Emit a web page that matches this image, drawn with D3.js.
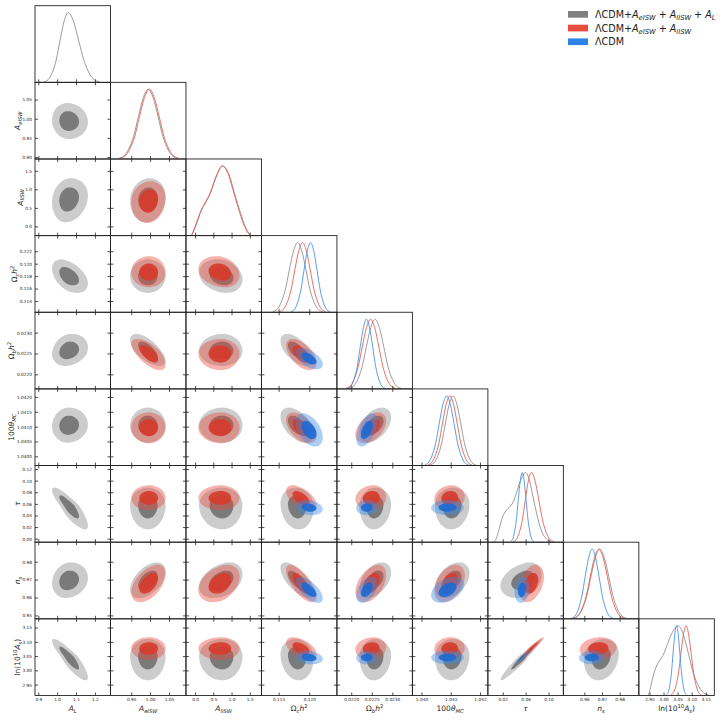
<!DOCTYPE html>
<html>
<head>
<meta charset="utf-8">
<script src="https://cdn.jsdelivr.net/npm/d3@7"></script>
<style>
  body { margin: 0; background: #fff; }
  text { font-family: 'DejaVu Sans', sans-serif; }
</style>
</head>
<body>
<script>
// parameters, axis ranges and ticks
var paramLabels = [
  [['A', 'i'], ['L', 'sub']],
  [['A', 'i'], ['eISW', 'sub']],
  [['A', 'i'], ['lISW', 'sub']],
  [['Ω', 'r'], ['c', 'sub'], ['h', 'i'], ['2', 'sup']],
  [['Ω', 'r'], ['b', 'sub'], ['h', 'i'], ['2', 'sup']],
  [['100', 'r'], ['θ', 'i'], ['MC', 'sub']],
  [['τ', 'i']],
  [['n', 'i'], ['s', 'sub']],
  [['ln(10', 'r'], ['10', 'sup'], ['A', 'i'], ['s', 'sub'], [')', 'r']]
];
var rangeLo = [0.8825, 0.895, -0.25, 0.1122, 0.02165, 1.03969, -0.006, 0.9481, 2.912];
var rangeHi = [1.2825, 1.095, 1.82, 0.1245, 0.02349, 1.04227, 0.126, 0.9909, 3.1807];
var xTicks = [
  [0.9, 1.0, 1.1, 1.2],
  [0.95, 1.00, 1.05],
  [0.0, 0.5, 1.0, 1.5],
  [0.115, 0.120],
  [0.0220, 0.0225, 0.0230],
  [1.040, 1.041, 1.042],
  [0.02, 0.06, 0.10],
  [0.96, 0.97, 0.98],
  [2.95, 3.00, 3.05, 3.10, 3.15]
];
var yTicks = [
  [],
  [0.90, 0.95, 1.00, 1.05],
  [0.0, 0.5, 1.0, 1.5],
  [0.114, 0.116, 0.118, 0.120, 0.122],
  [0.0220, 0.0225, 0.0230],
  [1.0400, 1.0405, 1.0410, 1.0415, 1.0420],
  [0.00, 0.02, 0.04, 0.06, 0.08, 0.10, 0.12],
  [0.95, 0.96, 0.97, 0.98],
  [2.95, 3.00, 3.05, 3.10, 3.15]
];
var xTickFormat = ['.1f', '.2f', '.1f', '.3f', '.4f', '.3f', '.2f', '.2f', '.2f'];
var yTickFormat = ['.1f', '.2f', '.1f', '.3f', '.4f', '.4f', '.2f', '.2f', '.2f'];

var seriesLegend = [
  [['ΛCDM+', 'r'], ['A', 'i'], ['eISW', 'sub'], [' + ', 'r'], ['A', 'i'], ['lISW', 'sub'], [' + ', 'r'], ['A', 'i'], ['L', 'sub']],
  [['ΛCDM+', 'r'], ['A', 'i'], ['eISW', 'sub'], [' + ', 'r'], ['A', 'i'], ['lISW', 'sub']],
  [['ΛCDM', 'r']]
];

// 1D marginals: x where each curve crosses these relative heights (left side, peak, right side)
var densityLevels = [0.01, 0.04, 0.14, 0.32, 0.61, 0.88, 1, 0.88, 0.61, 0.32, 0.14, 0.04, 0.01];

var grayDensity = [
  [0.932, 0.953, 0.974, 0.995, 1.016, 1.037, 1.058, 1.086, 1.113, 1.141, 1.168, 1.196, 1.223],
  [0.917, 0.930, 0.943, 0.956, 0.969, 0.982, 0.995, 1.008, 1.021, 1.034, 1.047, 1.060, 1.073],
  [-0.09, -0.06, 0.02, 0.14, 0.42, 0.61, 0.755, 0.93, 1.08, 1.25, 1.37, 1.47, 1.52],
  [0.11405, 0.11473, 0.1154, 0.11608, 0.11675, 0.11743, 0.1181, 0.11878, 0.11945, 0.12013, 0.1208, 0.12148, 0.12215],
  [0.02195, 0.022055, 0.02216, 0.022265, 0.02237, 0.022475, 0.02258, 0.022685, 0.02279, 0.022895, 0.023, 0.023105, 0.02321],
  [1.0403, 1.04043, 1.04056, 1.04069, 1.04082, 1.04095, 1.04108, 1.04121, 1.04134, 1.04147, 1.0416, 1.04173, 1.04186],
  [0.004, 0.008, 0.012, 0.018, 0.040, 0.051, 0.060, 0.067, 0.074, 0.082, 0.089, 0.097, 0.104],
  [0.9538, 0.9563, 0.9588, 0.9613, 0.9638, 0.9663, 0.9688, 0.9713, 0.9738, 0.9763, 0.9788, 0.9813, 0.9838],
  [2.946, 2.949, 2.955, 2.966, 3.002, 3.028, 3.052, 3.070, 3.088, 3.106, 3.124, 3.142, 3.160]
];
var redDensity = [
  null,
  [0.920, 0.933, 0.946, 0.959, 0.972, 0.985, 0.998, 1.011, 1.024, 1.037, 1.050, 1.063, 1.076],
  [-0.09, -0.065, 0.01, 0.13, 0.41, 0.60, 0.745, 0.91, 1.065, 1.23, 1.35, 1.45, 1.50],
  [0.11515, 0.11578, 0.1164, 0.11703, 0.11765, 0.11828, 0.1189, 0.11953, 0.12015, 0.12078, 0.1214, 0.12203, 0.12265],
  [0.02187, 0.02197, 0.02207, 0.02217, 0.02227, 0.02237, 0.02247, 0.02257, 0.02267, 0.02277, 0.02287, 0.02297, 0.02307],
  [1.04022, 1.040345, 1.04047, 1.040595, 1.04072, 1.040845, 1.04097, 1.041095, 1.04122, 1.041345, 1.04147, 1.041595, 1.04172],
  [0.0385, 0.0438, 0.049, 0.0543, 0.0595, 0.0648, 0.070, 0.0765, 0.083, 0.0895, 0.096, 0.1025, 0.109],
  [0.9538, 0.9562, 0.9586, 0.961, 0.9634, 0.9658, 0.9682, 0.9706, 0.973, 0.9754, 0.9778, 0.9802, 0.9826],
  [3.026, 3.035, 3.044, 3.053, 3.062, 3.071, 3.080, 3.089, 3.098, 3.107, 3.116, 3.125, 3.134]
];
var blueDensity = [
  null, null, null,
  [0.11705, 0.117575, 0.1181, 0.118625, 0.11915, 0.119675, 0.1202, 0.120725, 0.12125, 0.121775, 0.1223, 0.122825, 0.12335],
  [0.02192, 0.021995, 0.02207, 0.022145, 0.02222, 0.022295, 0.02237, 0.022445, 0.02252, 0.022595, 0.02267, 0.022745, 0.02282],
  [1.04011, 1.040235, 1.04036, 1.040485, 1.04061, 1.040735, 1.04086, 1.040985, 1.04111, 1.041235, 1.04136, 1.041485, 1.04161],
  [0.0336, 0.037, 0.0404, 0.0438, 0.0472, 0.0506, 0.054, 0.0574, 0.0608, 0.0642, 0.0676, 0.071, 0.0744],
  [0.9527, 0.95465, 0.9566, 0.95855, 0.9605, 0.96245, 0.9644, 0.96635, 0.9683, 0.97025, 0.9722, 0.97415, 0.9761],
  [3.010, 3.016, 3.022, 3.028, 3.034, 3.040, 3.046, 3.052, 3.058, 3.064, 3.070, 3.076, 3.082]
];

// 2D contours: centre and half-extent (below / above) of the outer contour, per parameter
var grayCenter = [1.058, 0.994, 0.75, 0.1180, 0.02256, 1.04104, 0.058, 0.9694, 3.050];
var grayExtLo  = [0.085, 0.047, 0.64, 0.0027, 0.00036, 0.00058, 0.042, 0.0097, 0.085];
var grayExtHi  = [0.105, 0.047, 0.55, 0.0027, 0.00041, 0.00060, 0.030, 0.0102, 0.060];
var redCenter  = [null, 0.997, 0.71, 0.1186, 0.02250, 1.04097, 0.070, 0.9680, 3.077];
var redExtLo   = [null, 0.047, 0.62, 0.0024, 0.00040, 0.00053, 0.021, 0.0106, 0.041];
var redExtHi   = [null, 0.044, 0.51, 0.0026, 0.00035, 0.00051, 0.022, 0.0103, 0.039];
var blueCenter = [null, null, null, 0.1199, 0.02238, 1.04089, 0.0535, 0.9643, 3.045];
var blueExtLo  = [null, null, null, 0.0021, 0.00026, 0.00056, 0.013, 0.0073, 0.024];
var blueExtHi  = [null, null, null, 0.0023, 0.00026, 0.00056, 0.013, 0.0073, 0.024];

// correlation of (row param, column param), lower triangle
var grayCorr = [
  [],
  [-0.05],
  [0.15, 0.1],
  [-0.45, 0.0, -0.2],
  [0.2, -0.65, 0.0, -0.6],
  [0.05, 0.0, 0.0, -0.5, 0.45],
  [-0.85, 0.0, 0.0, -0.1, 0.05, 0.05],
  [0.15, 0.5, 0.35, -0.7, 0.45, 0.4, 0.3],
  [-0.88, 0.0, 0.0, -0.1, 0.05, 0.05, 0.97, 0.15]
];
var redCorr = [
  [],
  [0],
  [0, 0.1],
  [0, 0.0, -0.2],
  [0, -0.65, 0.0, -0.55],
  [0, 0.0, 0.0, -0.5, 0.45],
  [0, 0.0, 0.0, -0.55, 0.1, 0.1],
  [0, 0.5, 0.35, -0.7, 0.45, 0.4, 0.35],
  [0, 0.0, 0.0, -0.5, 0.1, 0.05, 0.97, 0.1]
];
var blueCorr = [
  [],
  [0],
  [0, 0],
  [0, 0, 0],
  [0, 0, 0, -0.55],
  [0, 0, 0, -0.45, 0.5],
  [0, 0, 0, -0.2, 0.05, 0.0],
  [0, 0, 0, -0.65, 0.45, 0.4, 0.15],
  [0, 0, 0, -0.2, 0.05, 0.0, 0.97, 0.05]
];

var series = [
  { density: grayDensity, center: grayCenter, lo: grayExtLo, hi: grayExtHi, corr: grayCorr,
    light: '#9a9a9a', lightOp: 0.5, dark: '#6b6b6b', darkOp: 0.85, line: '#8a8a8a', key: '#808080' },
  { density: redDensity, center: redCenter, lo: redExtLo, hi: redExtHi, corr: redCorr,
    light: '#e8493b', lightOp: 0.42, dark: '#d63a2b', darkOp: 0.9, line: '#e3574a', key: '#e74c3c' },
  { density: blueDensity, center: blueCenter, lo: blueExtLo, hi: blueExtHi, corr: blueCorr,
    light: '#3a8ae8', lightOp: 0.42, dark: '#1b6ad6', darkOp: 0.9, line: '#3d8de6', key: '#2f83e8' }
];

var x0 = 35, y0 = 5.7, pw = 75.48, ph = 76.64;
var tickFs = 4.3, labelFs = 7.5, legendFs = 9.6;
var innerScale = 0.55;

var svg = d3.select('body').append('svg').attr('width', 720).attr('height', 720);
svg.append('defs').append('clipPath').attr('id', 'panelClip')
  .append('rect').attr('x', 0).attr('y', 0).attr('width', pw).attr('height', ph);

function addMath(text, parts, fs) {
  var shift = 0;
  parts.forEach(function (p) {
    var st = p[1];
    var target = st === 'sub' ? 0.22 * fs : (st === 'sup' ? -0.42 * fs : 0);
    text.append('tspan')
      .attr('dy', target - shift)
      .attr('font-size', (st === 'sub' || st === 'sup') ? fs * 0.7 : fs)
      .attr('font-style', (st === 'r' || st === 'sup') ? 'normal' : 'italic')
      .text(p[0]);
    shift = target;
  });
}

function contourPoints(cx, cy, xl, xh, yl, yh, rho, k) {
  return d3.range(0, 360, 3).map(function (a) {
    var t = a * Math.PI / 180;
    var u = Math.cos(t);
    var v = rho * Math.cos(t) + Math.sqrt(1 - rho * rho) * Math.sin(t);
    return [cx + k * u * (u < 0 ? xl : xh), cy + k * v * (v < 0 ? yl : yh)];
  });
}

function styleAxis(g) {
  g.select('.domain').remove();
  g.selectAll('line').attr('stroke', '#222').attr('stroke-width', 0.8);
  g.attr('font-family', null).attr('font-size', null);
  g.selectAll('text').attr('font-size', tickFs).attr('fill', '#222');
}

for (var i = 0; i < 9; i++) {
  for (var j = 0; j <= i; j++) {
    var g = svg.append('g').attr('transform', 'translate(' + (x0 + j * pw) + ',' + (y0 + i * ph) + ')');
    var x = d3.scaleLinear().domain([rangeLo[j], rangeHi[j]]).range([0, pw]);
    var inner = g.append('g').attr('clip-path', 'url(#panelClip)');

    if (i === j) {
      var yd = d3.scaleLinear().domain([0, 1.1]).range([ph, 0]);
      series.forEach(function (s) {
        var xs = s.density[j];
        if (!xs) return;
        inner.append('path')
          .datum(xs.map(function (v, k) { return [v, densityLevels[k]]; }))
          .attr('d', d3.line().x(function (d) { return x(d[0]); }).y(function (d) { return yd(d[1]); }).curve(d3.curveMonotoneX))
          .attr('fill', 'none').attr('stroke', s.line).attr('stroke-width', 0.85);
      });
      g.append('g').attr('transform', 'translate(0,' + ph + ')')
        .call(d3.axisBottom(x).tickValues(xTicks[j]).tickSize(-3).tickFormat(''))
        .call(styleAxis);
    } else {
      var y = d3.scaleLinear().domain([rangeLo[i], rangeHi[i]]).range([ph, 0]);
      series.forEach(function (s) {
        if (s.center[i] === null || s.center[j] === null) return;
        var rho = s.corr[i][j];
        [[1, s.light, s.lightOp], [innerScale, s.dark, s.darkOp]].forEach(function (lev) {
          var pts = contourPoints(s.center[j], s.center[i], s.lo[j], s.hi[j], s.lo[i], s.hi[i], rho, lev[0]);
          inner.append('path').datum(pts)
            .attr('d', d3.line().x(function (d) { return x(d[0]); }).y(function (d) { return y(d[1]); }).curve(d3.curveBasisClosed))
            .attr('fill', lev[1]).attr('fill-opacity', lev[2]).attr('stroke', 'none');
        });
      });
      g.append('g').attr('transform', 'translate(0,' + ph + ')')
        .call(d3.axisBottom(x).tickValues(xTicks[j]).tickSize(-3).tickFormat('')).call(styleAxis);
      g.append('g')
        .call(d3.axisTop(x).tickValues(xTicks[j]).tickSize(-3).tickFormat('')).call(styleAxis);
      g.append('g')
        .call(d3.axisLeft(y).tickValues(yTicks[i]).tickSize(-3).tickFormat('')).call(styleAxis);
      g.append('g').attr('transform', 'translate(' + pw + ',0)')
        .call(d3.axisRight(y).tickValues(yTicks[i]).tickSize(-3).tickFormat('')).call(styleAxis);

      if (j === 0) {
        var lab = g.append('g')
          .call(d3.axisLeft(y).tickValues(yTicks[i]).tickSize(0).tickPadding(3).tickFormat(d3.format(yTickFormat[i])))
          .call(styleAxis);
        var bb = lab.node().getBBox();
        var yl = svg.append('text')
          .attr('transform', 'translate(' + (x0 + bb.x - 2.5) + ',' + (y0 + i * ph + ph / 2) + ') rotate(-90)')
          .attr('text-anchor', 'middle').attr('fill', '#222').style('white-space', 'pre');
        addMath(yl, paramLabels[i], labelFs);
      }
    }

    if (i === 8) {
      g.append('g').attr('transform', 'translate(0,' + ph + ')')
        .call(d3.axisBottom(x).tickValues(xTicks[j]).tickSize(0).tickPadding(2.5).tickFormat(d3.format(xTickFormat[j])))
        .call(styleAxis);
      var xl = svg.append('text')
        .attr('x', x0 + j * pw + pw / 2).attr('y', y0 + 9 * ph + 16)
        .attr('text-anchor', 'middle').attr('fill', '#222').style('white-space', 'pre');
      addMath(xl, paramLabels[j], labelFs);
    }

    g.append('rect').attr('width', pw).attr('height', ph)
      .attr('fill', 'none').attr('stroke', '#222').attr('stroke-width', 0.9);
  }
}

// legend
var legend = svg.append('g').attr('transform', 'translate(568,11)');
series.forEach(function (s, k) {
  legend.append('rect').attr('x', 0).attr('y', k * 13.7).attr('width', 20).attr('height', 6.7).attr('fill', s.key);
  var t = legend.append('text').attr('x', 27).attr('y', k * 13.7 + 6.9)
    .attr('fill', '#222').style('white-space', 'pre');
  addMath(t, seriesLegend[k], legendFs);
});
</script>
</body>
</html>
